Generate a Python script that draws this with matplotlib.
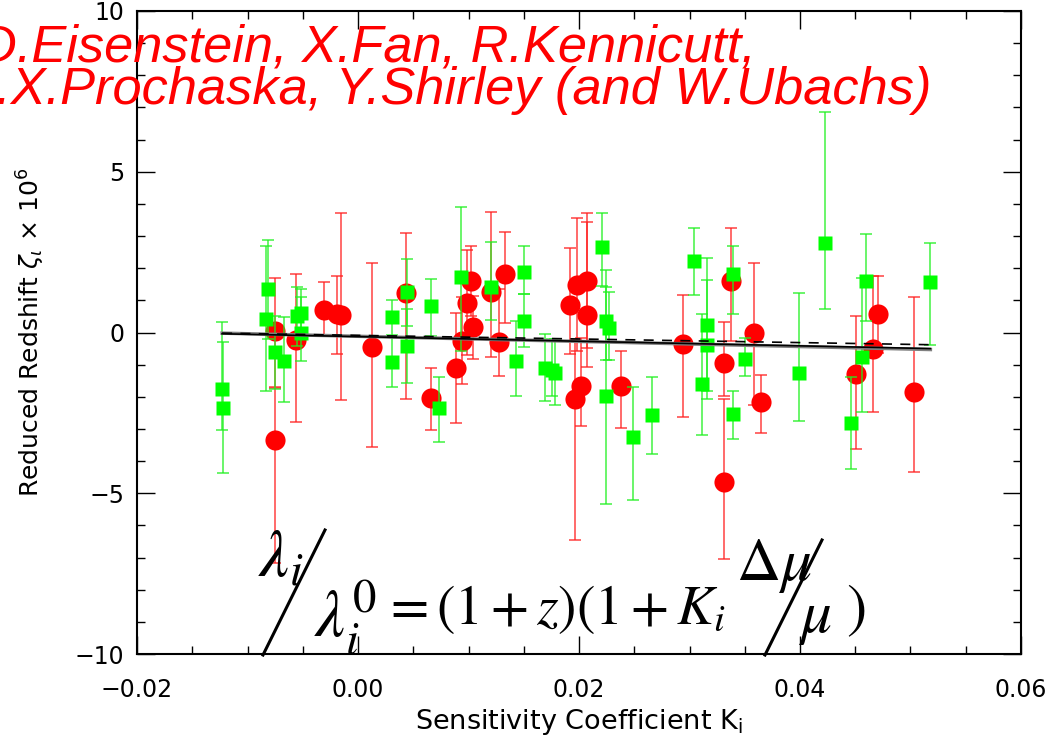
import matplotlib
matplotlib.use("Agg")
import matplotlib.pyplot as plt
import numpy as np
from matplotlib.lines import Line2D

# red circles: K, value, lower bar end, upper bar end
red_k = [-0.0075, -0.0075, -0.0056, -0.0031, -0.0019, -0.0015, 0.0013, 0.0043,
         0.0066, 0.0089, 0.0094, 0.0102, 0.0099, 0.0104, 0.0120, 0.0128, 0.0133,
         0.0192, 0.0198, 0.0207, 0.0207, 0.0202, 0.0196, 0.0238, 0.0294, 0.0338,
         0.0358, 0.0331, 0.0331, 0.0365, 0.0471, 0.0466, 0.0451, 0.0503]
red_v = [0.06, -3.33, -0.23, 0.71, 0.58, 0.55, -0.46, 1.22,
         -2.04, -1.11, -0.25, 1.61, 0.93, 0.17, 1.27, -0.28, 1.81,
         0.87, 1.49, 1.61, 0.53, -1.65, -2.08, -1.67, -0.36, 1.60,
         -0.01, -0.94, -4.65, -2.16, 0.56, -0.51, -1.28, -1.86]
red_lo = [-1.68, -7.18, -2.77, -0.10, -0.66, -2.11, -3.55, -2.06,
          -3.02, -2.81, -1.60, 0.50, -0.70, -0.81, -0.76, -1.36, 0.31,
          -0.66, -0.57, -0.49, -1.08, -2.91, -6.46, -2.97, -2.64, -0.25,
          -2.27, -1.96, -7.05, -3.12, -0.63, -2.47, -3.61, -4.34]
red_hi = [1.69, -1.72, 1.81, 1.56, 1.75, 3.72, 2.15, 3.10,
          -1.10, 0.60, 1.10, 2.68, 2.56, 1.15, 3.74, 1.35, 3.13,
          2.64, 3.55, 3.71, 3.43, -0.18, -0.23, -0.56, 1.18, 3.24,
          2.16, 0.33, -2.06, -1.32, 1.75, 1.75, 0.51, 1.10]

# green squares
grn_k = [-0.0123, -0.0122, -0.0081, -0.0083, -0.0075, -0.0067, -0.0055, -0.0052,
         -0.0052, 0.0031, 0.0031, 0.0044, 0.0044, 0.0066, 0.0073, 0.0093, 0.0120,
         0.0150, 0.0150, 0.0143, 0.0169, 0.0176, 0.0178, 0.0221, 0.0224, 0.0227,
         0.0224, 0.0249, 0.0266, 0.0304, 0.0316, 0.0316, 0.0311, 0.0339, 0.0350,
         0.0339, 0.0399, 0.0423, 0.0460, 0.0456, 0.0446, 0.0518]
grn_v = [-1.75, -2.34, 1.34, 0.43, -0.61, -0.88, 0.51, 0.61,
         -0.02, 0.48, -0.91, 1.25, -0.42, 0.81, -2.34, 1.72, 1.41,
         1.89, 0.37, -0.90, -1.11, -1.16, -1.25, 2.65, 0.35, 0.15,
         -1.96, -3.25, -2.58, 2.22, 0.22, -0.40, -1.59, 1.83, -0.81,
         -2.55, -1.25, 2.77, 1.61, -0.76, -2.81, 1.58]
grn_lo = [-3.04, -4.37, -0.20, -1.82, -1.75, -2.15, -0.42, -0.14,
          -0.88, -0.07, -1.69, 0.21, -1.57, -0.11, -3.40, -0.56, 0.39,
          1.20, -0.46, -1.97, -2.13, -1.97, -2.25, 1.45, -0.87, -0.87,
          -5.34, -5.22, -3.79, 1.16, -1.83, -2.08, -3.19, 0.58, -1.36,
          -3.32, -2.76, 0.74, 0.37, -2.47, -4.24, -0.38]
grn_hi = [0.34, -0.31, 2.88, 2.68, 0.50, 0.48, 1.43, 1.36,
          1.10, 1.01, -0.13, 2.29, 0.73, 1.66, -1.39, 3.91, 2.82,
          2.68, 1.20, 0.37, -0.04, -0.21, -0.21, 3.72, 1.93, 1.25,
          1.42, -1.70, -1.37, 3.24, 2.33, 1.64, 0.58, 2.70, -0.18,
          -1.82, 1.24, 6.86, 3.07, 1.69, -1.39, 2.77]

# fitted lines (end points in K and value)
fit_k = [-0.0123, 0.0518]
fit_solid = [-0.04, -0.50]
fit_gray = [-0.02, -0.53]
fit_dash = [-0.02, -0.38]

W, H = 1050, 736


def fx(x):
    return x / W


def fy(y):
    return 1 - y / H


fig = plt.figure(figsize=(10.5, 7.36), dpi=100)
ax = fig.add_axes([fx(137), fy(654), fx(1021) - fx(137), fy(11) - fy(654)])

red_v = np.array(red_v)
grn_v = np.array(grn_v)
red_err = [red_v - np.array(red_lo), np.array(red_hi) - red_v]
grn_err = [grn_v - np.array(grn_lo), np.array(grn_hi) - grn_v]

ax.errorbar(red_k, red_v, yerr=red_err, fmt='none', ecolor='#ff2020',
            elinewidth=1.1, capsize=4, capthick=1.1, alpha=0.85, zorder=2)
ax.plot(red_k, red_v, 'o', color='#ff0000', markersize=14.5, mec='none', zorder=3)
ax.errorbar(grn_k, grn_v, yerr=grn_err, fmt='none', ecolor='#20f020',
            elinewidth=1.1, capsize=4, capthick=1.1, alpha=0.85, zorder=4)
ax.plot(grn_k, grn_v, 's', color='#00ff00', markersize=10, mec='none', zorder=5)

ax.plot(fit_k, fit_gray, color='gray', lw=2.5, zorder=6)
ax.plot(fit_k, fit_solid, color='black', lw=1.2, zorder=7)
ax.plot(fit_k, fit_dash, color='black', lw=1.2, ls=(0, (6, 5)), zorder=7)

ax.set_xlim(-0.02, 0.06)
ax.set_ylim(-10, 10)
ax.set_xticks([-0.02, 0.0, 0.02, 0.04, 0.06])
ax.set_xticklabels(['\u22120.02', '0.00', '0.02', '0.04', '0.06'])
ax.set_xticks(np.arange(-0.02, 0.0601, 0.005), minor=True)
ax.set_yticks([-10, -5, 0, 5, 10])
ax.set_yticklabels(['\u221210', '\u22125', '0', '5', '10'])
ax.set_yticks(np.arange(-10, 10.1, 1), minor=True)
ax.tick_params(which='both', direction='in', top=True, right=True,
               labelsize=17, colors='black')
ax.tick_params(which='major', length=13, width=1)
ax.tick_params(which='minor', length=6, width=1)
ax.tick_params(axis='x', pad=17)
ax.tick_params(axis='y', pad=9)
for s in ax.spines.values():
    s.set_linewidth(1.5)

ax.set_xlabel('Sensitivity Coefficient K$_\\mathregular{i}$', fontsize=19.5, labelpad=4)
ax.set_ylabel('Reduced Redshift $\\zeta_\\iota$ \u00d7 10$^\\mathregular{6}$',
              fontsize=18, labelpad=20)

# red author lines (partly cut off at the left edge)
title_font = dict(family=['Liberation Sans', 'DejaVu Sans'], style='italic',
                  color='#ff0000', fontsize=37.7, zorder=10)
fig.text(fx(756), fy(62), 'D.Eisenstein, X.Fan, R.Kennicutt,', ha='right',
         va='baseline', **title_font)
fig.text(fx(932), fy(104), 'J.X.Prochaska, Y.Shirley (and W.Ubachs)', ha='right',
         va='baseline', **title_font)

# formula
fk = dict(fontsize=40, math_fontfamily='stix', color='black', va='baseline', ha='left')
fig.text(fx(258), fy(577), r'$\lambda_i$', **dict(fk, fontsize=48))
fig.text(fx(314), fy(637), r'$\lambda_i^0$', **dict(fk, fontsize=48))
fig.text(fx(382), fy(624), r'$=(1+z)(1+K_i$', **fk)
fig.text(fx(736), fy(580), r'$\Delta\mu$', **dict(fk, fontsize=44))
fig.text(fx(798), fy(632), r'$\mu$', **dict(fk, fontsize=44))
fig.text(fx(846), fy(626), r'$)$', **dict(fk, fontsize=44))
fig.add_artist(Line2D([fx(263), fx(325)], [fy(655), fy(530)], color='black', lw=2.2))
fig.add_artist(Line2D([fx(765), fx(822)], [fy(655), fy(540)], color='black', lw=2.2))

fig.savefig('out.png', dpi=100)
